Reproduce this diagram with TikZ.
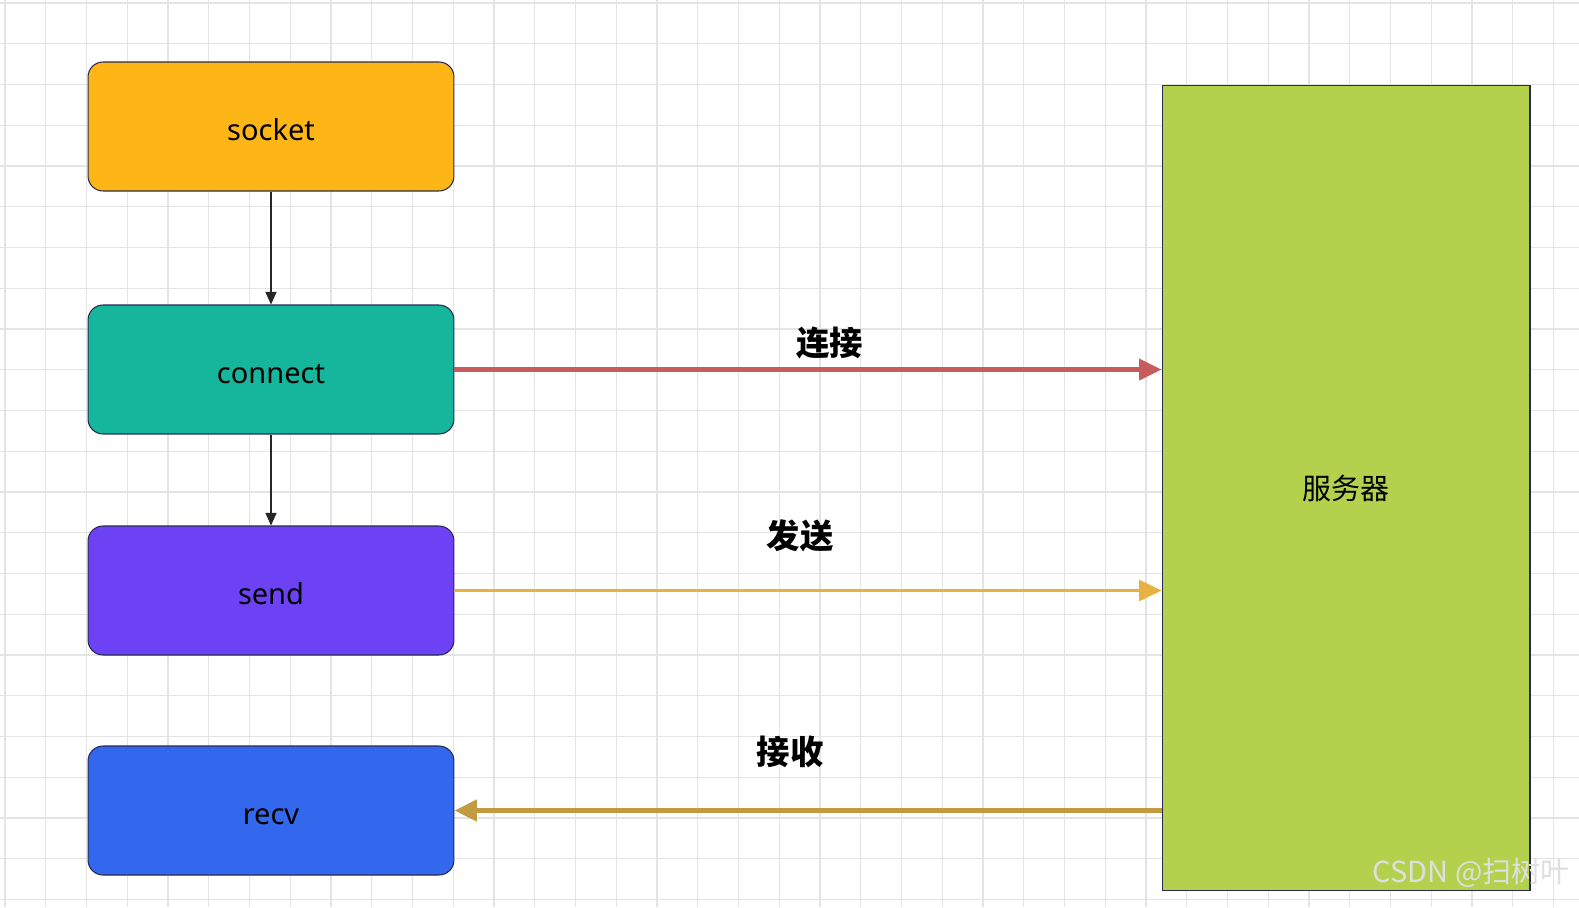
\documentclass[tikz,border=0pt]{standalone}
\usepackage{fontspec}
\setmainfont{Noto Sans}
\newfontfamily\cjk{Noto Sans CJK SC}
\usepackage{xcolor}
\definecolor{socketfill}{RGB}{254, 182, 22}
\definecolor{connectfill}{RGB}{22, 182, 156}
\definecolor{sendfill}{RGB}{108, 66, 244}
\definecolor{recvfill}{RGB}{51, 103, 238}
\definecolor{serverfill}{RGB}{179, 209, 76}
\definecolor{boxedge}{RGB}{40, 42, 80}
\definecolor{gridline}{RGB}{228, 228, 228}
\definecolor{connred}{RGB}{200, 92, 92}
\definecolor{sendgold}{RGB}{232, 178, 66}
\definecolor{recvgold}{RGB}{194, 154, 64}
\usetikzlibrary{arrows.meta, positioning}

\begin{document}
\begin{tikzpicture}[x=0.02cm, y=-0.02cm,
  func/.style={rectangle, rounded corners=0.3cm, draw=boxedge, fill=#1, line width=0.6pt, minimum width=7.32cm, minimum height=2.58cm, text height=16pt, text depth=0pt, font=\fontsize{16.5}{19}\selectfont},
  host/.style={rectangle, draw=boxedge, fill=serverfill, line width=0.6pt, minimum width=7.36cm, minimum height=16.12cm, font=\cjk\fontsize{16.5}{19}\selectfont},
  flow/.style={-{Triangle[length=0.25cm, width=0.22cm]}, draw=black!85, line width=0.6pt},
  msg/.style={-{Triangle[length=0.45cm, width=0.42cm]}, line width=#1},
  lbl/.style={font=\cjk\bfseries\fontsize{19}{22}\selectfont}
]
  \useasboundingbox (0,0) rectangle (1579,907);
  \fill[white] (0,0) rectangle (1579,907);
  % background grid
  \foreach \i in {0,...,38} \draw[gridline, line width=0.8pt] (5+\i*40.75,0) -- (5+\i*40.75,907);
  \foreach \j in {0,...,22} \draw[gridline, line width=0.8pt] (0,3+\j*40.75) -- (1579,3+\j*40.75);

  \node[func=socketfill] (socket) at (271,126.5) {socket};
  \node[func=connectfill] (connect) at (271,369.5) {connect};
  \node[func=sendfill] (send) at (271,590.5) {send};
  \node[func=recvfill] (recv) at (271,810.5) {recv};
  \node[host] (server) at (1346,488) {服务器};

  \draw[flow] (socket) -- (connect);
  \draw[flow] (connect) -- (send);

  \draw[msg=2.4pt, connred] (connect.east) -- (connect.east -| server.west)
    node[lbl, text=black, pos=0.531, yshift=0.54cm] {连接};
  \draw[msg=1.8pt, sendgold] (send.east) -- (send.east -| server.west)
    node[lbl, text=black, pos=0.489, yshift=1.1cm] {发送};
  \draw[msg=2.6pt, recvgold] (recv.east -| server.west) -- (recv.east)
    node[lbl, text=black, pos=0.525, yshift=1.18cm] {接收};

  \node[font=\cjk\fontsize{16.5}{19}\selectfont, text=gray!25] (mark) at (1471,873) {CSDN @扫树叶};
\end{tikzpicture}
\end{document}
